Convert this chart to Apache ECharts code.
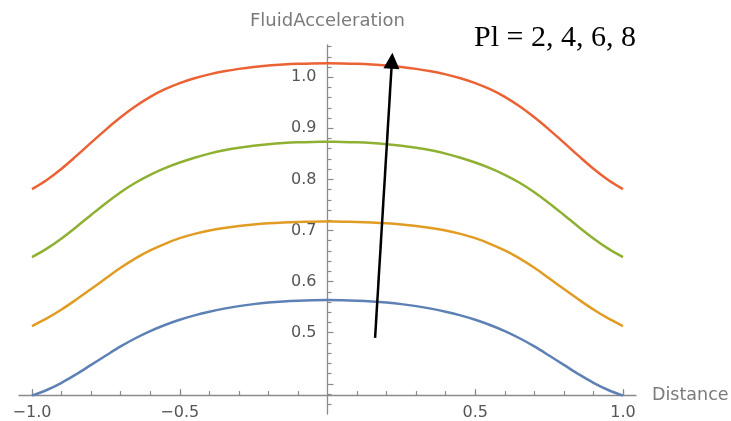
<!DOCTYPE html>
<html>
<head>
<meta charset="utf-8">
<script src="https://cdn.jsdelivr.net/npm/echarts@6/dist/echarts.min.js"></script>
<style>html,body{margin:0;padding:0;background:#fff}#c{width:731px;height:421px}</style>
</head>
<body>
<div id="c"></div>
<script>
// ---- data ----
const distance = [-1, -0.95, -0.9, -0.85, -0.8, -0.75, -0.7, -0.65, -0.6, -0.55, -0.5, -0.45, -0.4, -0.35, -0.3, -0.25, -0.2, -0.15, -0.1, -0.05,
  0, 0.05, 0.1, 0.15, 0.2, 0.25, 0.3, 0.35, 0.4, 0.45, 0.5, 0.55, 0.6, 0.65, 0.7, 0.75, 0.8, 0.85, 0.9, 0.95, 1];
const seriesNames = ['Pl = 2', 'Pl = 4', 'Pl = 6', 'Pl = 8'];
const accPl2 = [0.3770, 0.3880, 0.4020, 0.4188, 0.4371, 0.4554, 0.4732, 0.4892, 0.5032, 0.5152, 0.5254, 0.5340, 0.5412, 0.5472, 0.5521, 0.5560, 0.5590, 0.5612, 0.5627, 0.5636,
  0.5639, 0.5636, 0.5627, 0.5612, 0.5590, 0.5560, 0.5521, 0.5472, 0.5412, 0.5340, 0.5254, 0.5152, 0.5032, 0.4892, 0.4732, 0.4554, 0.4371, 0.4188, 0.4020, 0.3880, 0.3770];
const accPl4 = [0.5130, 0.5280, 0.5455, 0.5650, 0.5855, 0.6065, 0.6270, 0.6455, 0.6610, 0.6740, 0.6850, 0.6935, 0.7000, 0.7050, 0.7090, 0.7120, 0.7142, 0.7157, 0.7167, 0.7173,
  0.7175, 0.7173, 0.7167, 0.7157, 0.7142, 0.7120, 0.7090, 0.7050, 0.7000, 0.6935, 0.6850, 0.6740, 0.6610, 0.6455, 0.6270, 0.6065, 0.5855, 0.5650, 0.5455, 0.5280, 0.5130];
const accPl6 = [0.6480, 0.6645, 0.6845, 0.7070, 0.7305, 0.7535, 0.7750, 0.7935, 0.8090, 0.8220, 0.8330, 0.8425, 0.8505, 0.8570, 0.8620, 0.8660, 0.8690, 0.8712, 0.8726, 0.8733,
  0.8735, 0.8733, 0.8726, 0.8712, 0.8690, 0.8660, 0.8620, 0.8570, 0.8505, 0.8425, 0.8330, 0.8220, 0.8090, 0.7935, 0.7750, 0.7535, 0.7305, 0.7070, 0.6845, 0.6645, 0.6480];
const accPl8 = [0.7810, 0.7990, 0.8210, 0.8460, 0.8720, 0.8975, 0.9215, 0.9430, 0.9615, 0.9765, 0.9885, 0.9980, 1.0055, 1.0115, 1.0163, 1.0200, 1.0228, 1.0248, 1.0262, 1.0270,
  1.0273, 1.0270, 1.0262, 1.0248, 1.0228, 1.0200, 1.0163, 1.0115, 1.0055, 0.9980, 0.9885, 0.9765, 0.9615, 0.9430, 0.9215, 0.8975, 0.8720, 0.8460, 0.8210, 0.7990, 0.7810];

// tick values
const xMajorTicks = [-1, -0.5, 0.5, 1];
const xMinorTicks = [-1, -0.9, -0.8, -0.7, -0.6, -0.5, -0.4, -0.3, -0.2, -0.1, 0.1, 0.2, 0.3, 0.4, 0.5, 0.6, 0.7, 0.8, 0.9, 1];
const yMajorTicks = [0.4, 0.5, 0.6, 0.7, 0.8, 0.9, 1.0];
const yLabelTicks = [0.5, 0.6, 0.7, 0.8, 0.9, 1.0];
const yMinorTicks = [0.36, 0.38, 0.42, 0.44, 0.46, 0.48, 0.52, 0.54, 0.56, 0.58, 0.62, 0.64, 0.66, 0.68, 0.72, 0.74, 0.76, 0.78,
  0.82, 0.84, 0.86, 0.88, 0.92, 0.94, 0.96, 0.98, 1.02, 1.04, 1.06];

// plot range and axis crossing
const xRange = [-1.044, 1.044];
const yRange = [0.341, 1.063];
const xAxisCrossY = 0.378;
const yAxisCrossX = 0;

// annotation arrow (data coordinates)
const arrowFrom = [0.161, 0.490];
const arrowTo = [0.218, 1.032];
const annotation = 'Pl = 2, 4, 6, 8';

// ---- chart ----
const colors = ['#5E81B5', '#E19C24', '#8FB032', '#EB6235'];
const axisColor = '#8a8a8a';
const labelColor = '#555555';
const nameColor = '#7a7a7a';
const font = 'DejaVu Sans';
const fmt = v => (Math.round(v * 10) / 10).toFixed(1).replace('-', '\u2212');

const W = 731, H = 421;
const gridBox = {left: 19, right: 95, top: 45, bottom: 7};
const gridW = W - gridBox.left - gridBox.right;
const gridH = H - gridBox.top - gridBox.bottom;
// shift axes from the grid edges to where they cross (Mathematica-style axes)
const yAxisShift = -(yAxisCrossX - xRange[0]) / (xRange[1] - xRange[0]) * gridW;
const xAxisShift = -(xAxisCrossY - yRange[0]) / (yRange[1] - yRange[0]) * gridH;

const chart = echarts.init(document.getElementById('c'), null, {renderer: 'canvas'});
const mk = (vals, i) => ({
  name: seriesNames[i], type: 'line', xAxisIndex: 0, yAxisIndex: 0,
  data: distance.map((d, k) => [d, vals[k]]),
  showSymbol: false, smooth: 0.35, silent: true,
  lineStyle: {color: colors[i], width: 2.5},
  itemStyle: {color: colors[i]}
});

const option = {
  animation: false,
  backgroundColor: '#ffffff',
  grid: Object.assign({containLabel: false, outerBoundsMode: 'none'}, gridBox),
  xAxis: [
    {
      type: 'value', min: xRange[0], max: xRange[1], position: 'bottom', offset: xAxisShift,
      axisLine: {show: true, onZero: false, lineStyle: {color: axisColor, width: 1.3}},
      axisTick: {show: true, inside: true, length: 6, customValues: xMajorTicks, lineStyle: {color: axisColor, width: 1.2}},
      axisLabel: {show: true, customValues: xMajorTicks, formatter: fmt, margin: 10, color: labelColor, fontSize: 16, fontFamily: font},
      splitLine: {show: false},
      name: 'Distance', nameLocation: 'end', nameGap: 16,
      nameTextStyle: {color: nameColor, fontSize: 17.5, fontFamily: font, verticalAlign: 'middle', align: 'left'}
    },
    {
      type: 'value', min: xRange[0], max: xRange[1], position: 'bottom', offset: xAxisShift,
      axisLine: {show: false, onZero: false},
      axisTick: {show: true, inside: true, length: 4, customValues: xMinorTicks, lineStyle: {color: axisColor, width: 1.2}},
      axisLabel: {show: false}, splitLine: {show: false}
    }
  ],
  yAxis: [
    {
      type: 'value', min: yRange[0], max: yRange[1], position: 'left', offset: yAxisShift,
      axisLine: {show: true, onZero: false, lineStyle: {color: axisColor, width: 1.3}},
      axisTick: {show: true, inside: true, length: 6, customValues: yMajorTicks, lineStyle: {color: axisColor, width: 1.2}},
      axisLabel: {show: true, customValues: yLabelTicks, formatter: fmt, margin: 11, color: labelColor, fontSize: 16, fontFamily: font},
      splitLine: {show: false},
      name: 'FluidAcceleration', nameLocation: 'end', nameGap: 15,
      nameTextStyle: {color: nameColor, fontSize: 18, fontFamily: font, align: 'center'}
    },
    {
      type: 'value', min: yRange[0], max: yRange[1], position: 'left', offset: yAxisShift,
      axisLine: {show: false, onZero: false},
      axisTick: {show: true, inside: true, length: 4, customValues: yMinorTicks, lineStyle: {color: axisColor, width: 1.2}},
      axisLabel: {show: false}, splitLine: {show: false}
    }
  ],
  series: [
    mk(accPl2, 0), mk(accPl4, 1), mk(accPl6, 2), mk(accPl8, 3),
    {
      type: 'line', data: [], xAxisIndex: 0, yAxisIndex: 0, silent: true,
      itemStyle: {color: '#000000'}, lineStyle: {color: '#000000'},
      markLine: {
        silent: true, animation: false,
        symbol: ['none', 'triangle'], symbolSize: 16,
        label: {show: false},
        lineStyle: {color: '#000000', width: 2.5, type: 'solid'},
        itemStyle: {color: '#000000'},
        emphasis: {disabled: true},
        data: [[{coord: arrowFrom}, {coord: arrowTo}]]
      }
    }
  ],
  graphic: [
    {
      type: 'text', left: 474, top: 23, silent: true,
      style: {text: annotation, fill: '#000000', font: '30px "Liberation Serif"'}
    }
  ]
};
chart.setOption(option);
</script>
</body>
</html>
